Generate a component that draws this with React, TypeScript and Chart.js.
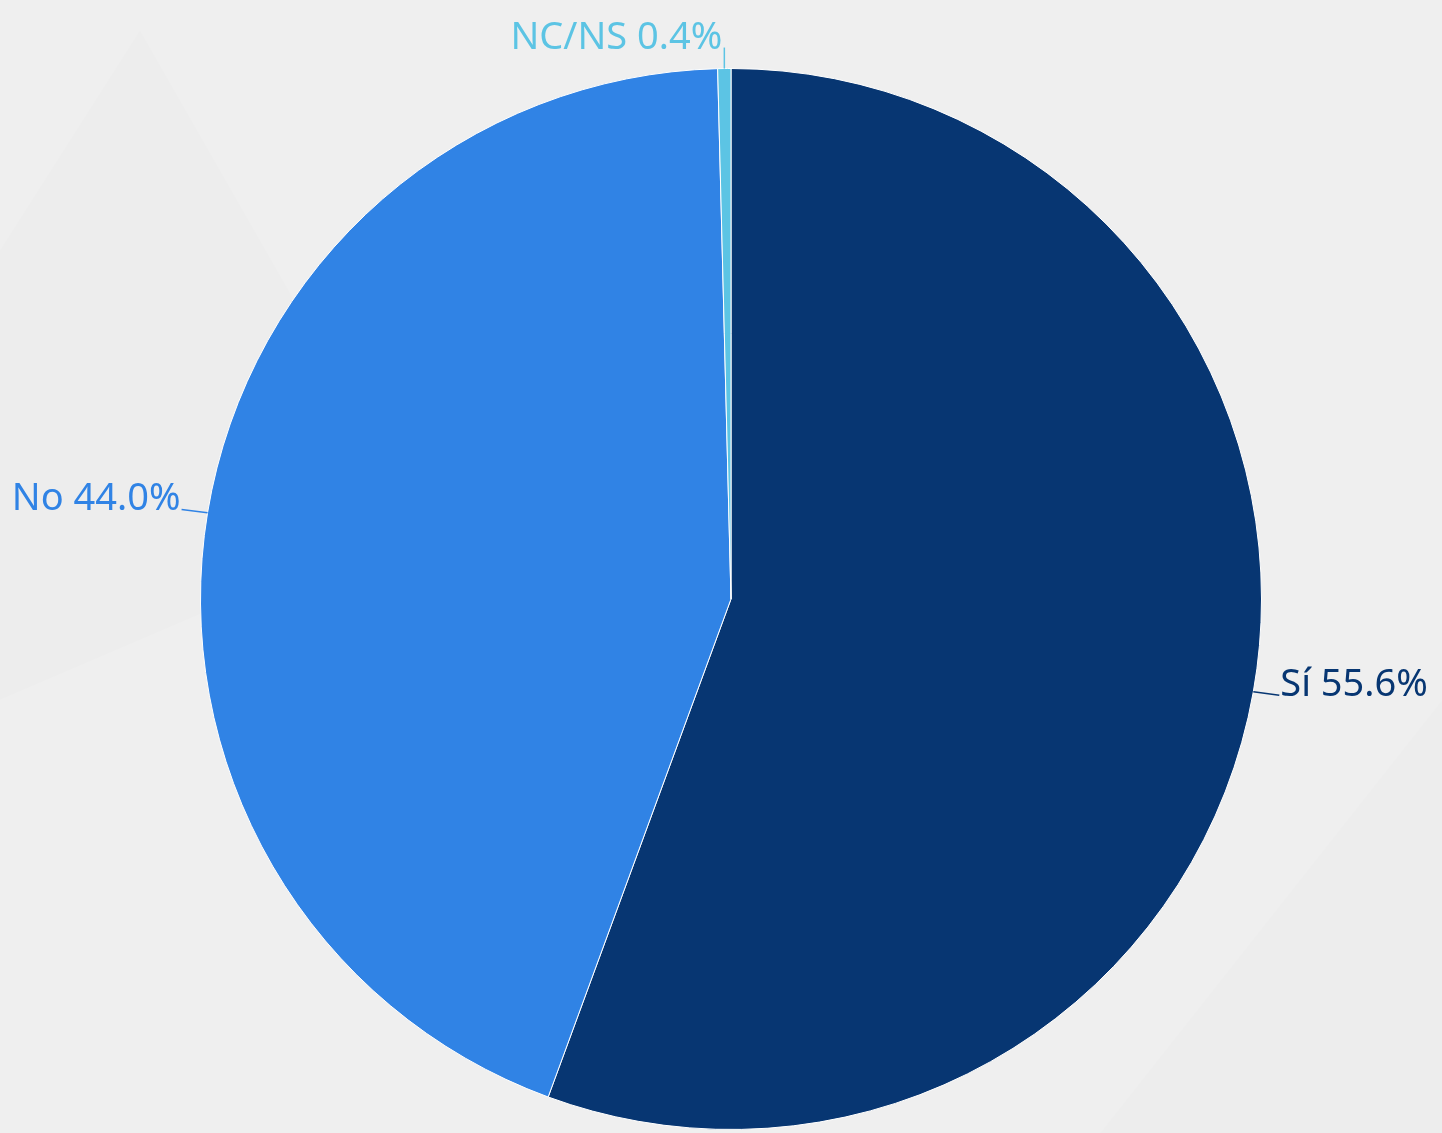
import React, { useEffect, useRef } from "react";
import { Chart, registerables } from "chart.js";

Chart.register(...registerables);

const categories = ["Sí", "No", "NC/NS"];
const values = [55.6, 44.0, 0.4];
const colors = ["#073672", "#3083e5", "#5cc4e4"];
const FONT = "'Noto Sans', sans-serif";

const labelPlugin = {
  id: "pieLabels",
  afterDatasetsDraw(chart: any) {
    const ctx = chart.ctx;
    const meta = chart.getDatasetMeta(0);
    meta.data.forEach((arc: any, i: number) => {
      const mid = (arc.startAngle + arc.endAngle) / 2;
      const cos = Math.cos(mid);
      const sin = Math.sin(mid);
      const ex = arc.x + cos * arc.outerRadius;
      const ey = arc.y + sin * arc.outerRadius;
      const text = `${categories[i]} ${values[i].toFixed(1)}%`;
      ctx.save();
      ctx.strokeStyle = colors[i];
      ctx.fillStyle = colors[i];
      ctx.lineWidth = 1.5;
      ctx.font = `38px ${FONT}`;
      ctx.textBaseline = "alphabetic";
      let lx: number, ly: number, tx: number, align: CanvasTextAlign;
      if (Math.abs(cos) > 0.5) {
        const s = cos > 0 ? 1 : -1;
        lx = ex + s * 26;
        ly = ey + sin * 20;
        tx = lx + s * 1;
        align = s > 0 ? "left" : "right";
      } else {
        lx = ex;
        ly = ey + (sin < 0 ? -21 : 21);
        tx = lx - 2;
        align = "right";
      }
      ctx.beginPath();
      ctx.moveTo(ex, ey);
      ctx.lineTo(lx, ly);
      ctx.stroke();
      ctx.textAlign = align;
      ctx.fillText(text, tx, ly + 1);
      ctx.restore();
    });
  },
};

const bgPlugin = {
  id: "bg",
  beforeDraw(chart: any) {
    const ctx = chart.ctx;
    ctx.save();
    ctx.fillStyle = "#efefef";
    ctx.fillRect(0, 0, chart.width, chart.height);
    ctx.fillStyle = "rgba(0,0,0,0.008)";
    ctx.beginPath();
    ctx.moveTo(140, 30);
    ctx.lineTo(420, 520);
    ctx.lineTo(0, 700);
    ctx.lineTo(0, 250);
    ctx.closePath();
    ctx.fill();
    ctx.beginPath();
    ctx.moveTo(1442, 700);
    ctx.lineTo(1442, 1133);
    ctx.lineTo(1100, 1133);
    ctx.closePath();
    ctx.fill();
    ctx.restore();
  },
};

export default function App() {
  const ref = useRef<HTMLCanvasElement>(null);
  useEffect(() => {
    document.body.style.margin = "0";
    const chart = new Chart(ref.current!, {
      type: "pie",
      data: {
        labels: categories,
        datasets: [
          {
            data: values,
            backgroundColor: colors,
            borderColor: "#ffffff",
            borderWidth: 1,
          },
        ],
      },
      options: {
        animation: false,
        responsive: false,
        maintainAspectRatio: false,
        layout: { padding: { top: 68, bottom: 3, left: 200, right: 180 } },
        plugins: { legend: { display: false }, tooltip: { enabled: false } },
      },
      plugins: [bgPlugin, labelPlugin],
    });
    return () => chart.destroy();
  }, []);
  return (
    <div style={{ width: 1442, height: 1133 }}>
      <canvas ref={ref} width={1442} height={1133} />
    </div>
  );
}
